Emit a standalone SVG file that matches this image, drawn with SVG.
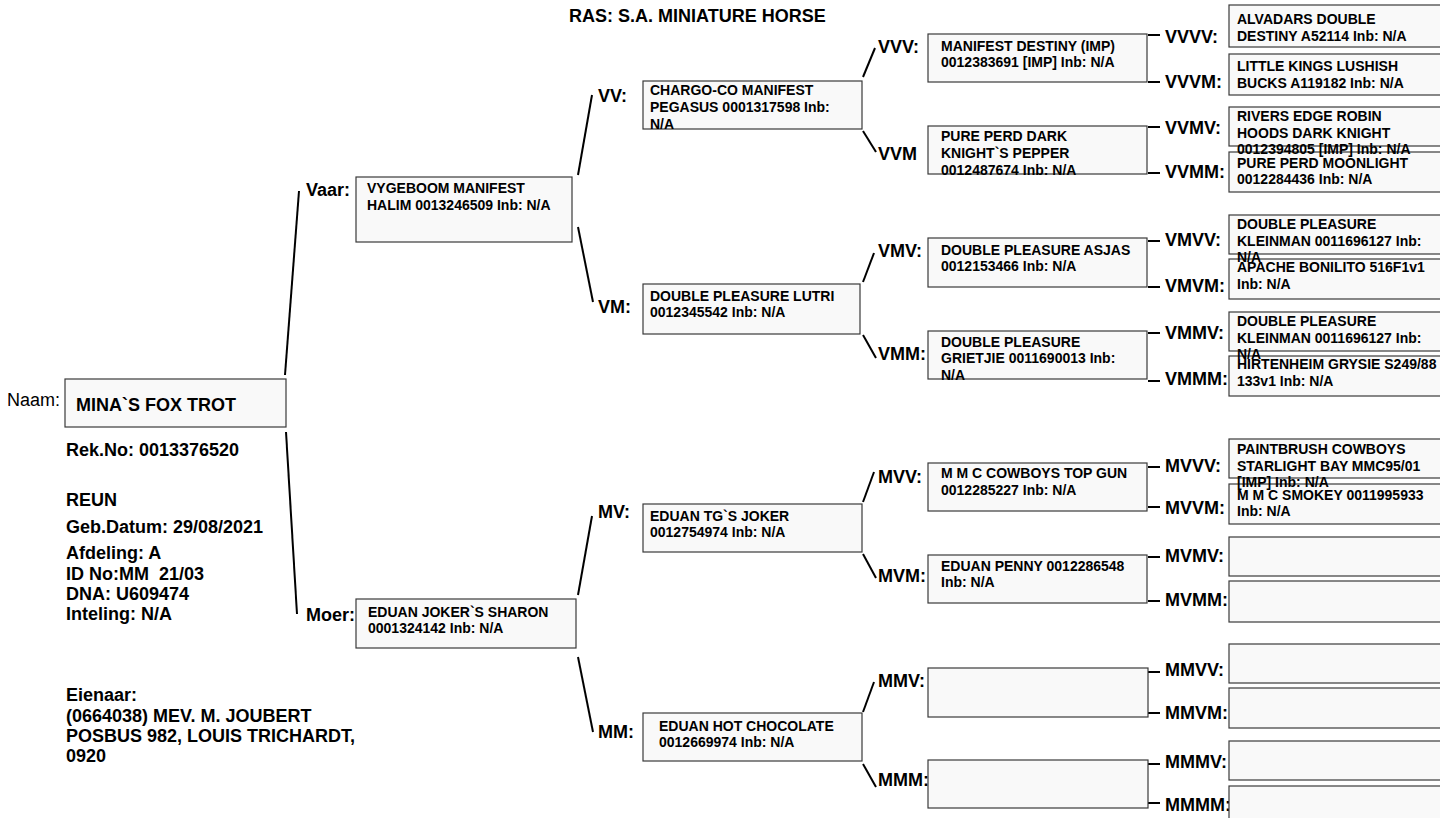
<svg xmlns="http://www.w3.org/2000/svg" width="1440" height="818" viewBox="0 0 1440 818">
<style>
text{font-family:"Liberation Sans",Arial,Helvetica,sans-serif;font-weight:bold;fill:#000}
.big{font-size:18px}
.lb{font-size:18px}
.reg{font-weight:normal}
.bt{font-size:14px}
.box{fill:#f9f9f9;stroke:#3a3a3a;stroke-width:1.2}
.ln{stroke:#000;stroke-width:2;fill:none;stroke-linecap:butt}
</style>
<rect x="0" y="0" width="1440" height="818" fill="#fff"/>
<text id="title" class="big" x="569" y="22">RAS: S.A. MINIATURE HORSE</text>

<g id="connectors">
<line class="ln" x1="285" y1="375" x2="299" y2="191"/>
<line class="ln" x1="286" y1="432" x2="297" y2="614"/>
<line class="ln" x1="578" y1="175" x2="592" y2="95"/>
<line class="ln" x1="578" y1="227" x2="593" y2="302"/>
<line class="ln" x1="578" y1="595" x2="592" y2="516"/>
<line class="ln" x1="578" y1="657" x2="593" y2="732"/>
<line class="ln" x1="863" y1="77" x2="875" y2="48"/>
<line class="ln" x1="863" y1="131" x2="876" y2="152"/>
<line class="ln" x1="863" y1="282" x2="874" y2="253"/>
<line class="ln" x1="863" y1="335" x2="876" y2="358"/>
<line class="ln" x1="863" y1="502" x2="874" y2="472"/>
<line class="ln" x1="863" y1="554" x2="876" y2="578"/>
<line class="ln" x1="863" y1="712" x2="874" y2="682"/>
<line class="ln" x1="863" y1="764" x2="876" y2="787"/>
<line class="ln" x1="1148" y1="35" x2="1160" y2="35"/>
<line class="ln" x1="1148" y1="82" x2="1160" y2="82"/>
<line class="ln" x1="1148" y1="127" x2="1160" y2="127"/>
<line class="ln" x1="1148" y1="173" x2="1160" y2="173"/>
<line class="ln" x1="1148" y1="241" x2="1160" y2="241"/>
<line class="ln" x1="1148" y1="287" x2="1160" y2="287"/>
<line class="ln" x1="1148" y1="333" x2="1160" y2="333"/>
<line class="ln" x1="1148" y1="381" x2="1160" y2="381"/>
<line class="ln" x1="1148" y1="467" x2="1160" y2="467"/>
<line class="ln" x1="1148" y1="507" x2="1160" y2="507"/>
<line class="ln" x1="1148" y1="557" x2="1160" y2="557"/>
<line class="ln" x1="1148" y1="601" x2="1160" y2="601"/>
<line class="ln" x1="1148" y1="672" x2="1160" y2="672"/>
<line class="ln" x1="1148" y1="713" x2="1160" y2="713"/>
<line class="ln" x1="1148" y1="764" x2="1160" y2="764"/>
<line class="ln" x1="1148" y1="803" x2="1160" y2="803"/>
</g>

<g id="subject">
<text class="lb reg" x="7" y="406">Naam:</text>
<rect class="box" x="65" y="379" width="221" height="48"/>
<text class="big" x="76" y="411">MINA`S FOX TROT</text>
</g>
<g id="info">
<text class="big" x="66" y="456">Rek.No: 0013376520</text>
<text class="big" x="66" y="506">REUN</text>
<text class="big" x="66" y="533">Geb.Datum: 29/08/2021</text>
<text class="big" x="66" y="559">Afdeling: A</text>
<text class="big" x="66" y="580" xml:space="preserve">ID No:MM  21/03</text>
<text class="big" x="66" y="600">DNA: U609474</text>
<text class="big" x="66" y="620">Inteling: N/A</text>
<text class="big" x="66" y="701">Eienaar:</text>
<text class="big" x="66" y="722">(0664038) MEV. M. JOUBERT</text>
<text class="big" x="66" y="742">POSBUS 982, LOUIS TRICHARDT,</text>
<text class="big" x="66" y="762">0920</text>
</g>

<g id="vaar">
<text class="lb" x="306" y="196">Vaar:</text>
<rect class="box" x="356" y="177" width="216" height="65"/>
<text class="bt" x="367" y="193">VYGEBOOM MANIFEST</text>
<text class="bt" x="367" y="210">HALIM 0013246509 Inb: N/A</text>
</g>
<g id="moer">
<text class="lb" x="306" y="621">Moer:</text>
<rect class="box" x="356" y="599" width="220" height="49"/>
<text class="bt" x="368" y="617">EDUAN JOKER`S SHARON</text>
<text class="bt" x="368" y="633">0001324142 Inb: N/A</text>
</g>

<g id="vv">
<text class="lb" x="598" y="102">VV:</text>
<rect class="box" x="643" y="81" width="219" height="48"/>
<text class="bt" x="650" y="95">CHARGO-CO MANIFEST</text>
<text class="bt" x="650" y="112">PEGASUS 0001317598 Inb:</text>
<text class="bt" x="650" y="129">N/A</text>
</g>
<g id="vm">
<text class="lb" x="598" y="313">VM:</text>
<rect class="box" x="643" y="284" width="217" height="50"/>
<text class="bt" x="650" y="301">DOUBLE PLEASURE LUTRI</text>
<text class="bt" x="650" y="317">0012345542 Inb: N/A</text>
</g>
<g id="mv">
<text class="lb" x="598" y="518">MV:</text>
<rect class="box" x="643" y="504" width="219" height="48"/>
<text class="bt" x="650" y="521">EDUAN TG`S JOKER</text>
<text class="bt" x="650" y="537">0012754974 Inb: N/A</text>
</g>
<g id="mm">
<text class="lb" x="598" y="738">MM:</text>
<rect class="box" x="643" y="713" width="219" height="48"/>
<text class="bt" x="659" y="731">EDUAN HOT CHOCOLATE</text>
<text class="bt" x="659" y="747">0012669974 Inb: N/A</text>
</g>

<g id="vvv">
<text class="lb" x="878" y="53">VVV:</text>
<rect class="box" x="928" y="34" width="219" height="48"/>
<text class="bt" x="941" y="51">MANIFEST DESTINY (IMP)</text>
<text class="bt" x="941" y="67">0012383691 [IMP] Inb: N/A</text>
</g>
<g id="vvm">
<text class="lb" x="878" y="160">VVM</text>
<rect class="box" x="928" y="126" width="219" height="48"/>
<text class="bt" x="941" y="141">PURE PERD DARK</text>
<text class="bt" x="941" y="158">KNIGHT`S PEPPER</text>
<text class="bt" x="941" y="175">0012487674 Inb: N/A</text>
</g>
<g id="vmv">
<text class="lb" x="878" y="257">VMV:</text>
<rect class="box" x="928" y="238" width="219" height="49"/>
<text class="bt" x="941" y="255">DOUBLE PLEASURE ASJAS</text>
<text class="bt" x="941" y="271">0012153466 Inb: N/A</text>
</g>
<g id="vmm">
<text class="lb" x="878" y="360">VMM:</text>
<rect class="box" x="928" y="331" width="219" height="48"/>
<text class="bt" x="941" y="347">DOUBLE PLEASURE</text>
<text class="bt" x="941" y="363">GRIETJIE 0011690013 Inb:</text>
<text class="bt" x="941" y="380">N/A</text>
</g>
<g id="mvv">
<text class="lb" x="878" y="483">MVV:</text>
<rect class="box" x="928" y="463" width="219" height="48"/>
<text class="bt" x="941" y="478">M M C COWBOYS TOP GUN</text>
<text class="bt" x="941" y="495">0012285227 Inb: N/A</text>
</g>
<g id="mvm">
<text class="lb" x="878" y="582">MVM:</text>
<rect class="box" x="928" y="555" width="219" height="48"/>
<text class="bt" x="941" y="571">EDUAN PENNY 0012286548</text>
<text class="bt" x="941" y="587">Inb: N/A</text>
</g>
<g id="mmv">
<text class="lb" x="878" y="687">MMV:</text>
<rect class="box" x="928" y="668" width="220" height="49"/>
</g>
<g id="mmm">
<text class="lb" x="878" y="786">MMM:</text>
<rect class="box" x="928" y="760" width="220" height="48"/>
</g>

<g id="vvvm">
<text class="lb" x="1165" y="88">VVVM:</text>
<rect class="box" x="1229" y="54" width="230" height="41"/>
<text class="bt" x="1237" y="71">LITTLE KINGS LUSHISH</text>
<text class="bt" x="1237" y="88">BUCKS A119182 Inb: N/A</text>
</g>
<g id="vvvv">
<text class="lb" x="1165" y="43">VVVV:</text>
<rect class="box" x="1229" y="5" width="230" height="42"/>
<text class="bt" x="1237" y="24">ALVADARS DOUBLE</text>
<text class="bt" x="1237" y="41">DESTINY A52114 Inb: N/A</text>
</g>
<g id="vvmm">
<text class="lb" x="1165" y="178">VVMM:</text>
<rect class="box" x="1229" y="152" width="230" height="40"/>
<text class="bt" x="1237" y="168">PURE PERD MOONLIGHT</text>
<text class="bt" x="1237" y="184">0012284436 Inb: N/A</text>
</g>
<g id="vvmv">
<text class="lb" x="1165" y="134">VVMV:</text>
<rect class="box" x="1229" y="107" width="230" height="39"/>
<text class="bt" x="1237" y="121">RIVERS EDGE ROBIN</text>
<text class="bt" x="1237" y="138">HOODS DARK KNIGHT</text>
<text class="bt" x="1237" y="154">0012394805 [IMP] Inb: N/A</text>
</g>
<g id="vmvm">
<text class="lb" x="1165" y="292">VMVM:</text>
<rect class="box" x="1229" y="259" width="230" height="40"/>
<text class="bt" x="1237" y="272">APACHE BONILITO 516F1v1</text>
<text class="bt" x="1237" y="289">Inb: N/A</text>
</g>
<g id="vmvv">
<text class="lb" x="1165" y="246">VMVV:</text>
<rect class="box" x="1229" y="215" width="230" height="39"/>
<text class="bt" x="1237" y="229">DOUBLE PLEASURE</text>
<text class="bt" x="1237" y="246">KLEINMAN 0011696127 Inb:</text>
<text class="bt" x="1237" y="262">N/A</text>
</g>
<g id="vmmm">
<text class="lb" x="1165" y="385">VMMM:</text>
<rect class="box" x="1229" y="356" width="230" height="40"/>
<text class="bt" x="1237" y="369">HIRTENHEIM GRYSIE S249/88</text>
<text class="bt" x="1237" y="386">133v1 Inb: N/A</text>
</g>
<g id="vmmv">
<text class="lb" x="1165" y="339">VMMV:</text>
<rect class="box" x="1229" y="312" width="230" height="39"/>
<text class="bt" x="1237" y="326">DOUBLE PLEASURE</text>
<text class="bt" x="1237" y="343">KLEINMAN 0011696127 Inb:</text>
<text class="bt" x="1237" y="359">N/A</text>
</g>
<g id="mvvm">
<text class="lb" x="1165" y="514">MVVM:</text>
<rect class="box" x="1229" y="484" width="230" height="40"/>
<text class="bt" x="1237" y="500">M M C SMOKEY 0011995933</text>
<text class="bt" x="1237" y="516">Inb: N/A</text>
</g>
<g id="mvvv">
<text class="lb" x="1165" y="472">MVVV:</text>
<rect class="box" x="1229" y="439" width="230" height="39"/>
<text class="bt" x="1237" y="454">PAINTBRUSH COWBOYS</text>
<text class="bt" x="1237" y="471">STARLIGHT BAY MMC95/01</text>
<text class="bt" x="1237" y="487">[IMP] Inb: N/A</text>
</g>
<g id="mvmv">
<text class="lb" x="1165" y="562">MVMV:</text>
<rect class="box" x="1229" y="537" width="230" height="39"/>
</g>
<g id="mvmm">
<text class="lb" x="1165" y="606">MVMM:</text>
<rect class="box" x="1229" y="581" width="230" height="41"/>
</g>
<g id="mmvv">
<text class="lb" x="1165" y="676">MMVV:</text>
<rect class="box" x="1229" y="644" width="230" height="39"/>
</g>
<g id="mmvm">
<text class="lb" x="1165" y="719">MMVM:</text>
<rect class="box" x="1229" y="688" width="230" height="40"/>
</g>
<g id="mmmv">
<text class="lb" x="1165" y="768">MMMV:</text>
<rect class="box" x="1229" y="741" width="230" height="39"/>
</g>
<g id="mmmm">
<text class="lb" x="1165" y="811">MMMM:</text>
<rect class="box" x="1229" y="786" width="230" height="40"/>
</g>
</svg>
